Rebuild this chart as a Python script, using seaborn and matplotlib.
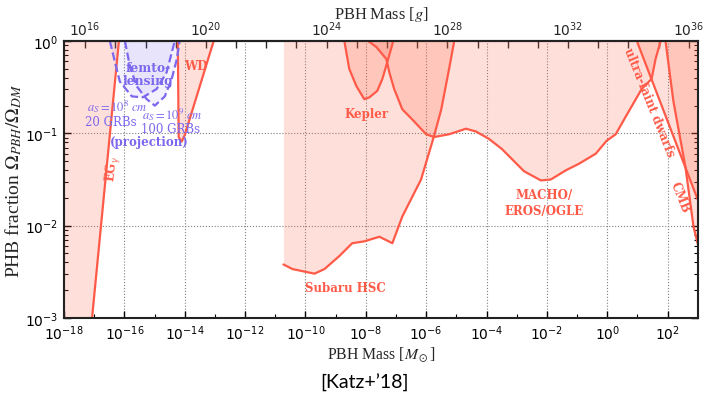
import numpy as np
import seaborn as sns
import matplotlib
matplotlib.use('Agg')
import matplotlib.pyplot as plt
from matplotlib.ticker import FixedLocator, FuncFormatter, LogLocator, NullFormatter, NullLocator

# constraint curves, as log10(M / M_sun) and log10(f)
eg_logm = [-17.07, -16.18]
eg_logf = [-3.0, 0.0]

femto_a_logm = [-16.48, -16.31, -16.15, -15.75, -15.39, -14.93, -14.60, -14.33]
femto_a_logf = [0.0, -0.23, -0.44, -0.60, -0.61, -0.52, -0.34, 0.0]
femto_b_logm = [-15.98, -15.82, -15.59, -15.26, -14.99, -14.66, -14.43, -14.26, -14.17]
femto_b_logf = [0.0, -0.27, -0.49, -0.63, -0.70, -0.60, -0.41, -0.195, 0.0]

wd_logm = [-14.23, -14.20, -14.10, -14.00, -13.04]
wd_logf = [0.0, -1.04, -1.09, -1.02, 0.0]

subaru_logm = [-10.73, -10.43, -9.70, -9.37, -8.88, -8.45, -8.05, -7.55, -7.12,
               -6.79, -6.17, -5.74, -5.50, -5.24, -5.07]
subaru_logf = [-2.42, -2.47, -2.52, -2.47, -2.33, -2.19, -2.17, -2.12, -2.19,
               -1.90, -1.50, -1.03, -0.74, -0.30, 0.0]

kepler_logm = [-8.71, -8.55, -8.31, -8.05, -7.88, -7.62, -7.45, -7.29, -7.09]
kepler_logf = [0.0, -0.30, -0.49, -0.63, -0.61, -0.54, -0.41, -0.23, 0.0]

macho_logm = [-7.92, -7.65, -7.32, -7.22, -7.06, -6.79, -6.46, -6.00, -5.74, -5.24,
              -4.68, -4.35, -3.92, -3.49, -2.76, -2.20, -1.87, -1.37, -0.94, -0.38,
              -0.02, 0.28, 0.61, 1.14, 1.47, 1.60, 1.77]
macho_logf = [0.0, -0.065, -0.195, -0.34, -0.52, -0.74, -0.85, -1.01, -1.04, -1.01,
              -0.95, -0.98, -1.06, -1.17, -1.41, -1.51, -1.50, -1.40, -1.33, -1.22,
              -1.08, -1.01, -0.82, -0.52, -0.41, -0.195, 0.0]

ufd_logm = [0.98, 3.0]
ufd_logf = [0.0, -1.72]

cmb_logm = [1.93, 2.19, 2.59, 2.86, 3.0]
cmb_logf = [0.0, -0.65, -1.365, -2.015, -2.2]

msun_g = 1.989e33
xmin, xmax = 1e-18, 1e3
ymin, ymax = 1e-3, 1.0

red = '#ff5a48'
fill_red = '#ff6347'
blue = '#7b68ee'

sns.set_theme(style="ticks")
plt.rcParams['font.family'] = ['DejaVu Sans']


def P(a):
    return np.power(10.0, np.asarray(a, dtype=float))


fig, ax = plt.subplots(figsize=(7.07, 4.02), dpi=100)
fig.subplots_adjust(left=0.0905, right=0.987, bottom=0.2065, top=0.8955)
ax.set_xscale('log')
ax.set_yscale('log')

# fills
ax.fill_betweenx(P(eg_logf), xmin, P(eg_logm), color=fill_red, alpha=0.2, lw=0)
ax.fill(P(femto_a_logm), P(femto_a_logf), color=blue, alpha=0.09, lw=0)
ax.fill(P(femto_b_logm), P(femto_b_logf), color=blue, alpha=0.09, lw=0)
ax.fill(P(wd_logm), P(wd_logf), color=fill_red, alpha=0.2, lw=0)
ax.fill_between(P(subaru_logm), P(subaru_logf), ymax, color=fill_red, alpha=0.2, lw=0)
ax.fill(P(kepler_logm), P(kepler_logf), color=fill_red, alpha=0.2, lw=0)
ax.fill_between(P(macho_logm), P(macho_logf), ymax, color=fill_red, alpha=0.2, lw=0)
ax.fill_between(P(ufd_logm), P(ufd_logf), ymax, color=fill_red, alpha=0.2, lw=0)
ax.fill_between(P(cmb_logm), P(cmb_logf), ymax, color=fill_red, alpha=0.2, lw=0)

# lines
for lm, lf in [(eg_logm, eg_logf), (wd_logm, wd_logf), (subaru_logm, subaru_logf),
               (kepler_logm, kepler_logf), (macho_logm, macho_logf),
               (ufd_logm, ufd_logf), (cmb_logm, cmb_logf)]:
    sns.lineplot(x=P(lm), y=P(lf), ax=ax, color=red, lw=1.6, sort=False,
                 estimator=None, legend=False)
for lm, lf in [(femto_a_logm, femto_a_logf), (femto_b_logm, femto_b_logf)]:
    sns.lineplot(x=P(lm), y=P(lf), ax=ax, color=blue, lw=1.6, ls='--', sort=False,
                 estimator=None, legend=False)

ax.set_xlim(xmin, xmax)
ax.set_ylim(ymin, ymax)

ax.xaxis.set_major_locator(FixedLocator(P(np.arange(-18, 3, 2))))
ax.xaxis.set_minor_locator(FixedLocator(P(np.arange(-17, 3, 2))))
ax.xaxis.set_minor_formatter(NullFormatter())
ax.yaxis.set_major_locator(FixedLocator(P([-3, -2, -1, 0])))
ax.yaxis.set_minor_locator(LogLocator(base=10, subs=np.arange(2, 10)))
ax.yaxis.set_minor_formatter(NullFormatter())
ax.tick_params(which='both', direction='in', top=False, right=True, labelsize=10,
               colors='black', pad=4)
ax.tick_params(which='major', length=5, width=1)
ax.tick_params(which='minor', length=3, width=0.8)
ax.grid(True, which='major', ls=':', color='gray', lw=0.8)
for s in ax.spines.values():
    s.set_linewidth(1.5)
    s.set_color('#222222')

ax.set_xlabel(r'PBH Mass [$M_\odot$]', family='Liberation Serif', fontsize=11.3,
              math_fontfamily='stix', labelpad=2)
ax.set_ylabel(r'PHB fraction $\Omega_{PBH}/\Omega_{DM}$', family='Liberation Serif',
              fontsize=14, math_fontfamily='stix', labelpad=1)

sec = ax.secondary_xaxis('top', functions=(lambda m: m * msun_g, lambda g: g / msun_g))
sec.xaxis.set_major_locator(FixedLocator(P(np.arange(13, 37))))
sec.xaxis.set_minor_locator(NullLocator())
sec.xaxis.set_major_formatter(FuncFormatter(
    lambda v, p: r'$10^{%d}$' % round(np.log10(v)) if round(np.log10(v)) % 4 == 0 else ''))
sec.tick_params(direction='in', length=5, width=1, labelsize=10, pad=2)
sec.spines['top'].set_linewidth(1.5)
sec.set_xlabel(r'PBH Mass [$g$]', family='Liberation Serif', fontsize=11.8,
               math_fontfamily='stix', labelpad=1)

# labels
lab = dict(color=red, family='DejaVu Serif', fontweight='bold', fontsize=8.5,
           ha='center', va='center')
ax.text(10**-16.35, 10**-1.37, r'EG$_\gamma$', rotation=84, **lab)
ax.text(10**-13.64, 10**-0.27, 'WD', **lab)
ax.text(10**-7.98, 10**-0.78, 'Kepler', **lab)
ax.text(10**-8.68, 10**-2.67, 'Subaru HSC', **lab)
ax.text(10**-2.10, 10**-1.745, 'MACHO/\nEROS/OGLE', linespacing=1.3, **lab)
ax.text(10**1.37, 10**-0.66, 'ultra-faint dwarfs', rotation=-68, **lab)
ax.text(10**2.40, 10**-1.69, 'CMB', rotation=-68, **lab)

blab = dict(color=blue, ha='center', va='center')
ax.text(10**-15.22, 10**-0.36, 'femto-\nlensing', family='DejaVu Serif',
        fontweight='bold', fontsize=8.8, linespacing=1.0, **blab)
ax.text(10**-16.25, 10**-0.70, r'$a_S=10^8\ cm$', fontsize=9, math_fontfamily='stix', **blab)
ax.text(10**-16.45, 10**-0.87, '20 GRBs', family='DejaVu Serif', fontsize=8.5, **blab)
ax.text(10**-14.43, 10**-0.79, r'$a_S=10^9\ cm$', fontsize=9, math_fontfamily='stix', **blab)
ax.text(10**-14.46, 10**-0.95, '100 GRBs', family='DejaVu Serif', fontsize=8.5, **blab)
ax.text(10**-15.19, 10**-1.09, '(projection)', family='DejaVu Serif', fontweight='bold',
        fontsize=8.5, **blab)

fig.text(0.515, 0.047, '[Katz+\u201918]', family='Lato', fontsize=14, ha='center',
         va='center', color='black')

plt.savefig('out.png', dpi=100)
